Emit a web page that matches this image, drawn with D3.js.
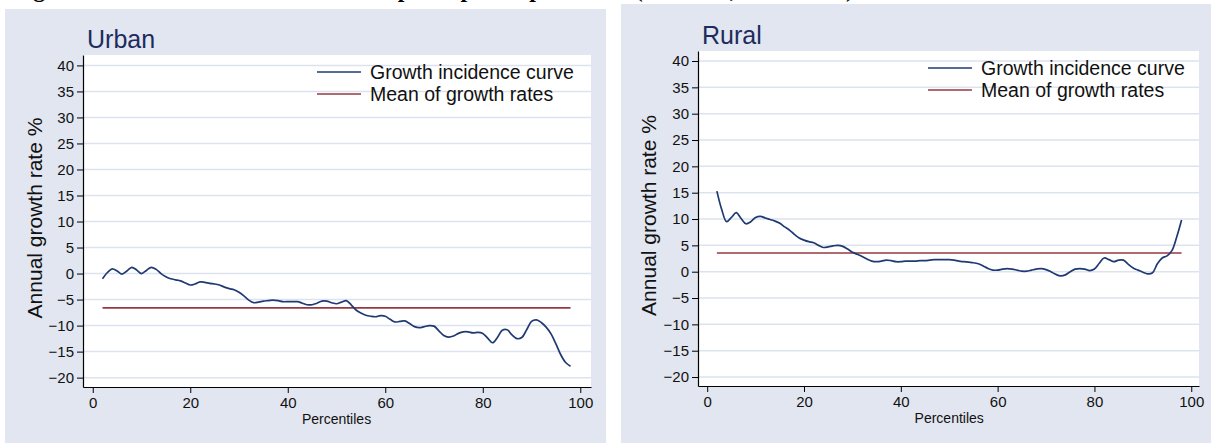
<!DOCTYPE html>
<html>
<head>
<meta charset="utf-8">
<script src="https://cdn.jsdelivr.net/npm/d3@7"></script>
<style>
html,body{margin:0;padding:0;background:#fff;}
svg{display:block;}
text{font-family:"Liberation Sans",Arial,sans-serif;}
</style>
</head>
<body>
<svg id="chart" width="1211" height="443"></svg>
<script>
// ---------- DATA ----------
const percentiles = [2,3,4,5,6,7,8,9,10,11,12,13,14,15,16,17,18,19,20,21,22,23,24,25,26,27,28,29,30,
  31,32,33,34,35,36,37,38,39,40,41,42,43,44,45,46,47,48,49,50,51,52,53,54,55,56,57,58,59,60,
  61,62,63,64,65,66,67,68,69,70,71,72,73,74,75,76,77,78,79,80,81,82,83,84,85,86,87,88,89,90,
  91,92,93,94,95,96,97,98];

const urbanGrowth = [-1.0,0.2,0.9,0.5,-0.1,0.5,1.2,0.7,0.0,0.6,1.2,0.8,0.0,-0.6,-1.0,-1.2,-1.4,-1.8,-2.2,
  -2.0,-1.6,-1.7,-1.9,-2.0,-2.2,-2.6,-2.9,-3.1,-3.6,-4.3,-5.1,-5.6,-5.5,-5.3,-5.2,-5.1,-5.2,-5.4,-5.4,
  -5.4,-5.4,-5.7,-6.0,-6.0,-5.7,-5.3,-5.3,-5.6,-5.8,-5.5,-5.2,-6.0,-7.0,-7.6,-8.0,-8.2,-8.3,-8.1,-8.2,
  -8.8,-9.3,-9.2,-9.1,-9.6,-10.2,-10.4,-10.2,-10.0,-10.1,-11.0,-11.9,-12.2,-12.0,-11.5,-11.2,-11.2,-11.4,-11.3,-11.5,
  -12.4,-13.3,-12.3,-10.9,-10.8,-11.8,-12.5,-12.3,-10.8,-9.2,-8.9,-9.4,-10.3,-11.6,-13.5,-15.6,-17.1,-17.8];

const ruralGrowth = [15.3,11.8,9.5,10.3,11.2,10.1,9.1,9.5,10.3,10.5,10.2,9.9,9.6,9.2,8.5,7.9,7.1,6.4,6.0,
  5.7,5.5,5.0,4.6,4.7,4.9,5.0,4.8,4.3,3.7,3.3,2.9,2.4,2.0,1.9,2.0,2.2,2.1,1.9,1.9,
  2.0,2.0,2.0,2.1,2.1,2.2,2.3,2.3,2.3,2.3,2.2,2.0,1.9,1.8,1.7,1.5,1.1,0.6,0.3,0.3,
  0.5,0.6,0.5,0.3,0.1,0.1,0.3,0.5,0.6,0.4,0.0,-0.5,-0.8,-0.6,0.0,0.5,0.6,0.5,0.2,0.5,
  1.6,2.6,2.3,1.9,2.2,2.2,1.4,0.7,0.3,-0.1,-0.4,-0.2,1.5,2.6,3.0,4.0,6.6,9.8];

const urbanMean = -6.6;
const ruralMean = 3.55;
const meanRange = [2, 98];

const yTicks = [-20,-15,-10,-5,0,5,10,15,20,25,30,35,40];
const xTicks = [0,20,40,60,80,100];
const legendLabels = ["Growth incidence curve","Mean of growth rates"];
const yTitle = "Annual growth rate %";
const xTitle = "Percentiles";
const pageTitle = "Figure 3: Growth incidence curves of per capita expenditure (Vietnam, 2006-2008)";

// ---------- LAYOUT ----------
const svg = d3.select("#chart");
const C = {bg:"#e1e6f0", grid:"#dde3ee", gic:"#1f3a73", mean:"#953a40", title:"#1d2c5c"};

svg.append("text").attr("x",12).attr("y",-3)
  .style("font-family","'Liberation Serif','Times New Roman',serif")
  .style("font-weight","bold").style("font-size","24px").attr("fill","#000")
  .text(pageTitle);

const panels = [
  {name:"Urban", values:urbanGrowth, mean:urbanMean,
   bg:[5,9,601,434], plot:{l:83,r:591,t:55,b:387}, xd:[-2,102.2], yd:[-21.8,42],
   titleX:87, titleY:48, legX:317, legY:[72,94], ytX:34},
  {name:"Rural", values:ruralGrowth, mean:ruralMean,
   bg:[621,4,590,439], plot:{l:698,r:1199,t:51,b:386}, xd:[-1.9,101.6], yd:[-21.7,41.9],
   titleX:702, titleY:44, legX:928, legY:[68,90], ytX:648}
];

panels.forEach(p => {
  const g = svg.append("g");
  g.append("rect").attr("x",p.bg[0]).attr("y",p.bg[1]).attr("width",p.bg[2]).attr("height",p.bg[3]).attr("fill",C.bg);
  g.append("rect").attr("x",p.plot.l).attr("y",p.plot.t).attr("width",p.plot.r-p.plot.l).attr("height",p.plot.b-p.plot.t).attr("fill","#fff");

  const x = d3.scaleLinear().domain(p.xd).range([p.plot.l,p.plot.r]);
  const y = d3.scaleLinear().domain(p.yd).range([p.plot.b,p.plot.t]);

  // grid
  g.append("g").selectAll("line").data(yTicks).join("line")
    .attr("x1",p.plot.l).attr("x2",p.plot.r).attr("y1",d=>y(d)).attr("y2",d=>y(d))
    .attr("stroke",C.grid).attr("stroke-width",1.5);

  // axes
  const ya = g.append("g").attr("transform",`translate(${p.plot.l},0)`)
    .call(d3.axisLeft(y).tickValues(yTicks).tickSize(6).tickPadding(3).tickSizeOuter(0));
  const xa = g.append("g").attr("transform",`translate(0,${p.plot.b})`)
    .call(d3.axisBottom(x).tickValues(xTicks).tickSize(6).tickPadding(4).tickSizeOuter(0));
  [ya,xa].forEach(a=>{
    a.select(".domain").attr("stroke","#000").attr("stroke-width",1.2);
    a.selectAll(".tick line").attr("stroke","#000").attr("stroke-width",1);
    a.selectAll(".tick text").style("font-size","15px").style("font-family","'Liberation Sans',Arial,sans-serif").attr("fill","#111");
  });

  // titles
  g.append("text").attr("x",p.titleX).attr("y",p.titleY).attr("fill",C.title)
    .style("font-size","25px").text(p.name);
  g.append("text").attr("transform",`translate(${p.ytX},${(p.plot.t+p.plot.b)/2 - 3}) rotate(-90)`)
    .attr("text-anchor","middle").attr("dominant-baseline","central")
    .style("font-size","21px").attr("fill","#111").text(yTitle);
  g.append("text").attr("x",x(50)).attr("y",p.plot.b+37).attr("text-anchor","middle")
    .style("font-size","14px").attr("fill","#111").text(xTitle);

  // mean line
  g.append("line").attr("x1",x(meanRange[0])).attr("x2",x(meanRange[1]))
    .attr("y1",y(p.mean)).attr("y2",y(p.mean)).attr("stroke",C.mean).attr("stroke-width",1.6);

  // GIC
  const line = d3.line().x((d,i)=>x(percentiles[i])).y(d=>y(d)).curve(d3.curveCatmullRom.alpha(0.5));
  g.append("path").datum(p.values).attr("d",line).attr("fill","none")
    .attr("stroke",C.gic).attr("stroke-width",1.7);

  // legend
  const cols = [C.gic, C.mean];
  legendLabels.forEach((lab,i)=>{
    g.append("line").attr("x1",p.legX).attr("x2",p.legX+44).attr("y1",p.legY[i]).attr("y2",p.legY[i])
      .attr("stroke",cols[i]).attr("stroke-width",1.3);
    g.append("text").attr("x",p.legX+53).attr("y",p.legY[i]).attr("dominant-baseline","central")
      .style("font-size","19.5px").attr("fill","#111").text(lab);
  });
});
</script>
</body>
</html>
